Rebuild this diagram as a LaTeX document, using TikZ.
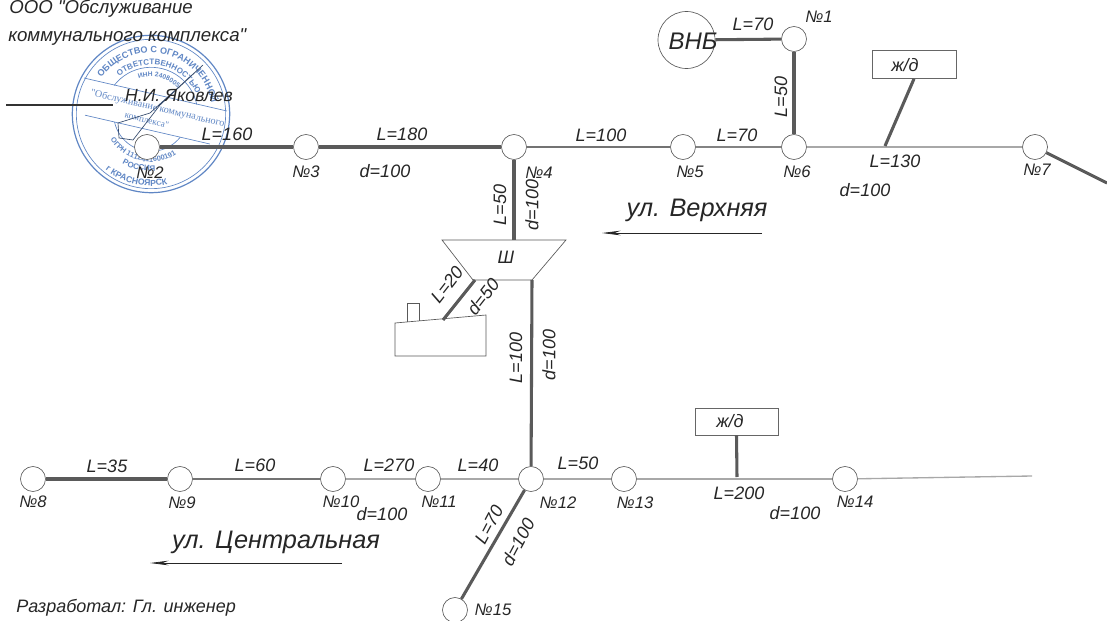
\documentclass[tikz,border=0pt]{standalone}
\usepackage{fontspec}
\setmainfont{Liberation Sans}[Ligatures=TeXOff]
\newfontfamily\stampfont{Liberation Serif}[Ligatures=TeXOff]
\usepackage{tikz}
\usetikzlibrary{arrows.meta,positioning,decorations.text}
\definecolor{stampblue}{HTML}{5F86C4}
\definecolor{pipedark}{HTML}{5A5A5A}
\definecolor{pipepale}{HTML}{A8A8A8}
\tikzset{
    junction/.style={draw=black!65, circle, fill=white, inner sep=0pt, minimum size=18.75pt, line width=0.5pt},
    pipe/.style={draw=pipedark, line width=2.3pt},
    pipepale/.style={draw=pipepale, line width=2pt},
    lbl/.style={inner sep=0pt, font=\itshape\fontsize{13.5}{16}\selectfont, text=black!85},
    tag/.style={inner sep=0pt, font=\itshape\fontsize{12.5}{15}\selectfont, text=black!85},
    street/.style={inner sep=0pt, font=\itshape\fontsize{19}{22}\selectfont, text=black!85},
    railbox/.style={draw=black!60, inner sep=0pt, line width=0.5pt, minimum height=21pt, minimum width=63pt},
    outline/.style={draw=black!65, line width=0.5pt},
    flow/.style={-{Stealth[length=14pt, width=3.5pt]}, line width=0.6pt, black!85},
    stamptext/.style={decorate, decoration={text along path, text align=center, text={#1}}},
    stampline/.style={draw=stampblue, line width=0.5pt}
}

\begin{document}
\begin{tikzpicture}[x=0.75pt, y=-0.75pt, node distance=1cm, on grid]
            \useasboundingbox (0,0) rectangle (1107,621);

            % stamp
            \begin{scope}[shift={(151,114)}, x=1pt, y=1pt, rotate=-13]
                \draw[stampline, line width=0.9pt] (0,0) circle (59pt);
                \draw[stampline] (0,0) circle (56pt);
                \draw[stampline] (-55,15) -- (55,15);
                \draw[stampline] (-48,-12) -- (48,-12);
                \draw[stampline] (-31.8,14.6) arc[start angle=155.4, end angle=24.6, radius=35pt];
                \draw[stampline] (-25.3,-12) arc[start angle=205.4, end angle=334.6, radius=28pt];
                \path[stamptext={|\fontsize{6.8}{8}\selectfont\bfseries\color{stampblue}|ОБЩЕСТВО С ОГРАНИЧЕННОЙ}] (175:46pt) arc[start angle=175, end angle=5, radius=46pt];
                \path[stamptext={|\fontsize{6}{8}\selectfont\bfseries\color{stampblue}|ОТВЕТСТВЕННОСТЬЮ}] (160:37pt) arc[start angle=160, end angle=20, radius=37pt];
                \path[stamptext={|\fontsize{5}{6}\selectfont\bfseries\color{stampblue}|ИНН 2408005}] (140:28pt) arc[start angle=140, end angle=40, radius=28pt];
                \path[stamptext={|\fontsize{5.5}{7}\selectfont\bfseries\color{stampblue}|ОГРН 1112411600191}] (190:36pt) arc[start angle=190, end angle=350, radius=36pt];
                \path[stamptext={|\fontsize{6}{7}\selectfont\bfseries\color{stampblue}|РОССИЯ}] (235:43pt) arc[start angle=235, end angle=305, radius=43pt];
                \path[stamptext={|\fontsize{6.5}{7}\selectfont\bfseries\color{stampblue}|г КРАСНОЯРСК}] (215:54pt) arc[start angle=215, end angle=325, radius=54pt];
                \node[inner sep=0pt, text=stampblue, rotate=-13, font=\stampfont\fontsize{7.6}{9}\selectfont] (stampa) at (4,5) {"Обслуживание коммунального};
                \node[inner sep=0pt, text=stampblue, rotate=-13, font=\stampfont\fontsize{7}{9}\selectfont] (stampb) at (-2,-5) {комплекса"};
            \end{scope}
            \draw[draw=stampblue!55!black, line width=0.5pt] (118,123) -- (119,138) -- (133,140) -- (160,105) -- (203,65) -- (150,113) -- (118,123);

            % header
            \node[lbl, anchor=west, font=\itshape\fontsize{14}{16}\selectfont] (firma) at (9,9) {ООО "Обслуживание};
            \node[lbl, anchor=west, font=\itshape\fontsize{14}{16}\selectfont] (firmb) at (8,37) {коммунального комплекса"};
            \node[lbl, font=\itshape\fontsize{13.2}{16}\selectfont] (sign) at (179,96) {Н.И. Яковлев};
            \coordinate (signa) at (6,105);
            \coordinate (signb) at (113,105);
            \draw[black!80, line width=1pt] (signa) -- (signb);

            % upper street
            \node[junction] (n2) at (147,147) {};
            \node[junction, right=119.25pt of n2] (n3) {};
            \node[junction, right=156pt of n3] (n4) {};
            \node[junction, right=126.75pt of n4] (n5) {};
            \node[junction, right=83.25pt of n5] (n6) {};
            \node[junction, right=180.75pt of n6] (n7) {};
            \node[junction, above=81pt of n6] (n1) {};
            \node[draw=black!65, circle, inner sep=0pt, minimum size=42.75pt, line width=0.5pt] (vnb) at (686.5,40) {};
            \node[railbox] (rail1) at (914,64.5) {};
            \coordinate (tap1) at (885,146);
            \coordinate (edge1) at (1107,183);

            \draw[pipe] (vnb) -- (n1);
            \draw[pipe] (n1) -- (n6);
            \draw[pipe] (n2) -- (n3);
            \draw[pipe] (n3) -- (n4);
            \draw[pipepale, draw=pipedark!85] (n4) -- (n5);
            \draw[pipepale, draw=pipedark!75] (n5) -- (n6);
            \draw[pipepale] (n6) -- (n7);
            \draw[pipe] (rail1.south) -- (tap1);
            \draw[pipe] (n7) -- (edge1);

            % bunker and house
            \coordinate (bunkertop) at (514,240);
            \coordinate (bunkerdown) at (532,280);
            \coordinate (bunkerhouse) at (475,280);
            \coordinate (roof) at (443,320);
            \draw[outline] (442,240) -- (566,240) -- (532,280) -- (473,280) -- cycle;
            \draw[outline] (395,323) -- (486,315) -- (486,356) -- (395,356) -- cycle;
            \draw[outline] (407,322) -- (407,303) -- (419,303) -- (419,321);
            \draw[pipe] (n4) -- (bunkertop);
            \draw[pipe] (bunkerhouse) -- (roof);

            % lower street
            \node[junction] (n8) at (33,479) {};
            \node[junction, right=110.25pt of n8] (n9) {};
            \node[junction, right=114.75pt of n9] (n10) {};
            \node[junction, right=71.25pt of n10] (n11) {};
            \node[junction, right=77.25pt of n11] (n12) {};
            \node[junction, right=69.75pt of n12] (n13) {};
            \node[junction, right=165.75pt of n13] (n14) {};
            \node[junction] (n15) at (455,610) {};
            \node[railbox, minimum width=62pt, minimum height=20pt] (rail2) at (736.5,421.5) {};
            \coordinate (tap2) at (737,477);
            \coordinate (edge2) at (1032,476);

            \draw[pipe] (bunkerdown) -- (n12);
            \draw[pipe] (n8) -- (n9);
            \draw[pipepale, draw=pipedark!85] (n9) -- (n10);
            \draw[pipepale] (n10) -- (n11);
            \draw[pipepale] (n11) -- (n12);
            \draw[pipepale] (n12) -- (n13);
            \draw[pipepale, line width=1.4pt] (n13) -- (n14);
            \draw[pipepale, line width=1pt] (n14) -- (edge2);
            \draw[pipe] (rail2.south) -- (tap2);
            \draw[pipe] (n12) -- (n15);

            % labels
            \node[lbl] (l1) at (753,24) {L=70};
            \node[tag] (t1) at (819,17) {№1};
            \node[lbl, rotate=90] (l2) at (781,97) {L=50};
            \node[lbl, font=\itshape\fontsize{18}{20}\selectfont] (vnbtext) at (693,41) {ВНБ};
            \node[lbl] (railtext1) at (905,65) {ж/д};
            \node[lbl] (l3) at (227,134) {L=160};
            \node[tag] (t2) at (150,173) {№2};
            \node[tag] (t3) at (306,172) {№3};
            \node[lbl] (l4) at (402,134) {L=180};
            \node[lbl] (d1) at (385,171) {d=100};
            \node[tag] (t4) at (539,173) {№4};
            \node[lbl] (l5) at (601,135) {L=100};
            \node[tag] (t5) at (690,172) {№5};
            \node[lbl] (l6) at (737,135) {L=70};
            \node[tag] (t6) at (797,172) {№6};
            \node[lbl] (l7) at (895,161) {L=130};
            \node[lbl] (d2) at (865,190) {d=100};
            \node[tag] (t7) at (1037,170) {№7};
            \node[lbl, rotate=90] (l8) at (500,205) {L=50};
            \node[lbl, rotate=90] (d3) at (532,205) {d=100};
            \node[lbl] (bunkertext) at (506,257) {Ш};
            \node[lbl, rotate=52] (l9) at (447,285) {L=20};
            \node[lbl, rotate=52] (d4) at (483,297) {d=50};
            \node[lbl, rotate=90] (l10) at (516,358) {L=100};
            \node[lbl, rotate=90] (d5) at (549,355) {d=100};
            \node[street] (upper) at (697,210) {ул. Верхняя};
            \coordinate (uppera) at (762,233);
            \coordinate (upperb) at (602,233);
            \draw[flow] (uppera) -- (upperb);

            \node[lbl] (l11) at (107,466) {L=35};
            \node[tag] (t8) at (33,502) {№8};
            \node[lbl] (l12) at (255,465) {L=60};
            \node[tag] (t9) at (182,503) {№9};
            \node[lbl] (l13) at (389,465) {L=270};
            \node[tag] (t10) at (341,502) {№10};
            \node[lbl] (d6) at (382,514) {d=100};
            \node[tag] (t11) at (439,502) {№11};
            \node[lbl] (l14) at (478,465) {L=40};
            \node[tag] (t12) at (558,503) {№12};
            \node[lbl] (l15) at (578,463) {L=50};
            \node[tag] (t13) at (635,503) {№13};
            \node[lbl] (railtext2) at (730,421) {ж/д};
            \node[lbl] (l16) at (739,493) {L=200};
            \node[lbl] (d7) at (795,513) {d=100};
            \node[tag] (t14) at (855,502) {№14};
            \node[lbl, rotate=62] (l17) at (489,525) {L=70};
            \node[lbl, rotate=62] (d8) at (518,542) {d=100};
            \node[tag] (t15) at (493,610) {№15};
            \node[street] (lower) at (276,542) {ул. Центральная};
            \coordinate (lowera) at (342,563);
            \coordinate (lowerb) at (150,563);
            \draw[flow] (lowera) -- (lowerb);
            \node[lbl, anchor=west] (author) at (16,608) {Разработал: Гл. инженер};
        \end{tikzpicture}
\end{document}
